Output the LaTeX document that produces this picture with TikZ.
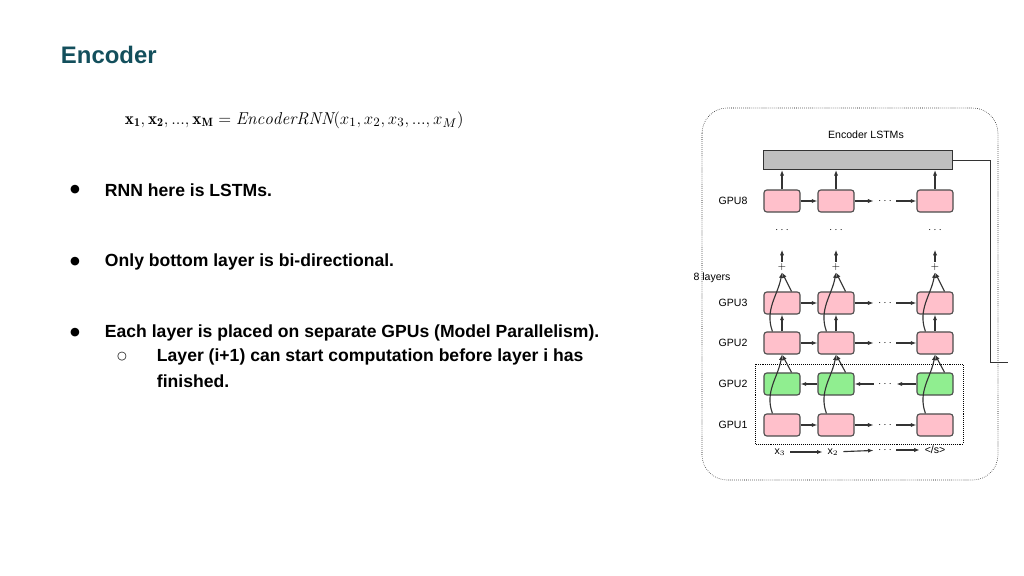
\documentclass[tikz,border=0pt]{standalone}
\usepackage{fontspec}
\newfontfamily\slidefont{Liberation Sans}
\newfontfamily\symfont{DejaVu Sans}
\usetikzlibrary{arrows.meta}
\definecolor{titleteal}{HTML}{134F5C}
\definecolor{cellpink}{HTML}{FFC0CB}
\definecolor{cellgreen}{HTML}{90EE90}
\definecolor{bargrey}{HTML}{BFBFBF}
\tikzset{
	cell/.style={rectangle, rounded corners=2pt, draw=black!70, thick, minimum width=0.9cm, minimum height=0.55cm, inner sep=0pt},
	pinkcell/.style={cell, fill=cellpink},
	greencell/.style={cell, fill=cellgreen},
	gpulabel/.style={font=\slidefont\fontsize{7.5}{9}\selectfont},
	dots/.style={inner sep=3pt, font=\scriptsize},
	bulletmark/.style={font=\symfont\fontsize{8}{10}\selectfont},
	bullettext/.style={anchor=west, font=\slidefont\fontsize{12.5}{15}\selectfont\bfseries},
	flow/.style={-{Latex[length=4pt]}, thick, black!80},
}
\begin{document}
\begin{tikzpicture}[x=0.025cm, y=-0.025cm]
	\useasboundingbox (0,0) rectangle (1024,576);

	% slide text
	\node 	(title)	at	(56,55) 	[anchor=west, text=titleteal, font=\slidefont\fontsize{17}{20}\selectfont\bfseries]{Encoder};
	\node 	(eq)	at	(120,120) 	[anchor=west, font=\fontsize{12.2}{14}\selectfont]{$\mathbf{x_1},\mathbf{x_2},...,\mathbf{x_M} = \mathit{EncoderRNN}(x_1,x_2,x_3,...,x_M)$};

	\node 	(b1)	at	(75,190) 	[bulletmark]{●};
	\node 	(t1)	at	(100,190) 	[bullettext]{RNN here is LSTMs.};
	\node 	(b2)	at	(75,262) 	[bulletmark]{●};
	\node 	(t2)	at	(100,262) 	[bullettext]{Only bottom layer is bi-directional.};
	\node 	(b3)	at	(75,333) 	[bulletmark]{●};
	\node 	(t3)	at	(100,333) 	[bullettext]{Each layer is placed on separate GPUs (Model Parallelism).};
	\node 	(b4)	at	(122,357) 	[bulletmark]{○};
	\node 	(t4)	at	(152,357) 	[bullettext]{Layer (i+1) can start computation before layer i has};
	\node 	(t5)	at	(152,381) 	[bullettext]{finished.};

	% diagram frame
	\draw[densely dotted, rounded corners=18pt]	(702,108) rectangle (998,480);
	\draw[densely dotted]	(755,364) rectangle (963,444);
	\node 	(enc)	at	(866,135) 	[gpulabel]{Encoder LSTMs};
	\node 	(bar)	at	(858,160) 	[rectangle, draw=black!80, thick, fill=bargrey, minimum width=4.72cm, minimum height=0.47cm, inner sep=0pt]{};
	\node 	(layers)	at	(712,278) 	[gpulabel]{8 layers};
	\coordinate	(c1)	at	(990,160);
	\coordinate	(c2)	at	(990,362);
	\coordinate	(c3)	at	(1008,362);
	\draw[black!80]	(bar.east) -- (c1) -- (c2) -- (c3);

	% row labels
	\node 	(l8)	at	(733,201) 	[gpulabel]{GPU8};
	\node 	(l3)	at	(733,303) 	[gpulabel]{GPU3};
	\node 	(l2)	at	(733,343) 	[gpulabel]{GPU2};
	\node 	(lg)	at	(733,384) 	[gpulabel]{GPU2};
	\node 	(l1)	at	(733,425) 	[gpulabel]{GPU1};

	% cells
	\foreach \c/\x in {a/782, b/836, c/935}{
		\node 	(g8\c)	at	(\x,201) 	[pinkcell]{};
		\node 	(g3\c)	at	(\x,303) 	[pinkcell]{};
		\node 	(g2\c)	at	(\x,343) 	[pinkcell]{};
		\node 	(gg\c)	at	(\x,384) 	[greencell]{};
		\node 	(g1\c)	at	(\x,425) 	[pinkcell]{};
		\node 	(p\c)	at	(\x,267) 	[inner sep=1pt, font=\scriptsize]{$+$};
		\node 	(d\c)	at	(\x,230) 	[inner sep=0pt, font=\scriptsize]{$\cdots$};
		\draw[flow]	(g8\c.north) -- (g8\c.north |- bar.south);
		\draw[flow]	(p\c.north) -- ++(0,-12);
		\draw[flow]	(g2\c.north) -- (g3\c.south);
		\draw[flow]	(g3\c.north east) ++(-9,0) -- (p\c.south);
		\draw[flow]	(g2\c.north west) ++(9,0) to[out=110, in=-100] (p\c.south);
		\draw[flow]	(gg\c.north east) ++(-9,0) -- (g2\c.south);
		\draw[flow]	(g1\c.north west) ++(9,0) to[out=110, in=-100] (g2\c.south);
	}

	% horizontal flow
	\foreach \r/\y in {8/201, 3/303, 2/343, 1/425}{
		\node 	(h\r)	at	(885,\y) 	[dots]{$\cdots$};
		\draw[flow]	(g\r a) -- (g\r b);
		\draw[flow]	(g\r b) -- (h\r);
		\draw[flow]	(h\r) -- (g\r c);
	}
	\node 	(hg)	at	(885,384) 	[dots]{$\cdots$};
	\draw[flow]	(ggc) -- (hg);
	\draw[flow]	(hg) -- (ggb);
	\draw[flow]	(ggb) -- (gga);

	% inputs
	\node 	(x3)	at	(780,452) 	[gpulabel]{x$_3$};
	\node 	(x2)	at	(833,452) 	[gpulabel]{x$_2$};
	\node 	(xd)	at	(885,450) 	[dots]{$\cdots$};
	\node 	(eos)	at	(935,450) 	[gpulabel]{</s>};
	\draw[flow]	(x3) -- (x2);
	\draw[flow]	(x2) -- (xd);
	\draw[flow]	(xd) -- (eos);

\end{tikzpicture}
\end{document}
